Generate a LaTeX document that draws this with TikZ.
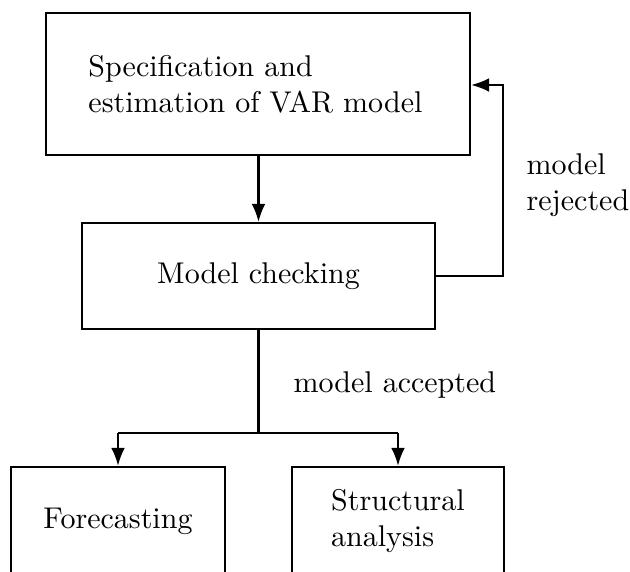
\documentclass[tikz,border=0pt]{standalone}
\usetikzlibrary{arrows.meta}
\begin{document}
\begin{tikzpicture}[x=0.3333pt,y=-0.3333pt,
  box/.style={draw,line width=0.75pt,inner sep=0pt},
  conn/.style={line width=0.75pt},
  arr/.style={conn,-{Latex[length=6pt,width=4.6pt]}},
  lbl/.style={anchor=west,align=left,inner sep=0pt}]
\useasboundingbox (0,0) rectangle (630,572);
\clip (0,0) rectangle (630,572);
\node[box,minimum width=141.3pt,minimum height=47.3pt,text width=113pt,align=left] (spec) at (258,84)
  {Specification and\\estimation of VAR model};
\node[box,minimum width=117.7pt,minimum height=35.3pt] (check) at (258.5,276) {Model checking};
\node[box,minimum width=71.3pt,minimum height=36pt] (fore) at (118,521) {Forecasting};
\node[box,minimum width=70.7pt,minimum height=36pt,align=left] (struct) at (398,521) {Structural\\analysis};
\node[lbl] (rej) at (526,185) {model\\rejected};
\node[lbl] (acc) at (293,385) {model accepted};
\coordinate (fb1) at (503,276);
\coordinate (fb2) at (503,85);
\coordinate (split) at (258.5,433);
\coordinate (sl) at (118,433);
\coordinate (sr) at (398,433);
\draw[arr] (spec.south -| check.north) -- (check.north);
\draw[arr] (check.east) -- (fb1) -- (fb2) -- (spec.east |- fb2);
\draw[conn] (check.south) -- (split);
\draw[arr] (sl) -- (fore.north);
\draw[arr] (sr) -- (struct.north);
\draw[conn] (sl) -- (sr);
\end{tikzpicture}
\end{document}
